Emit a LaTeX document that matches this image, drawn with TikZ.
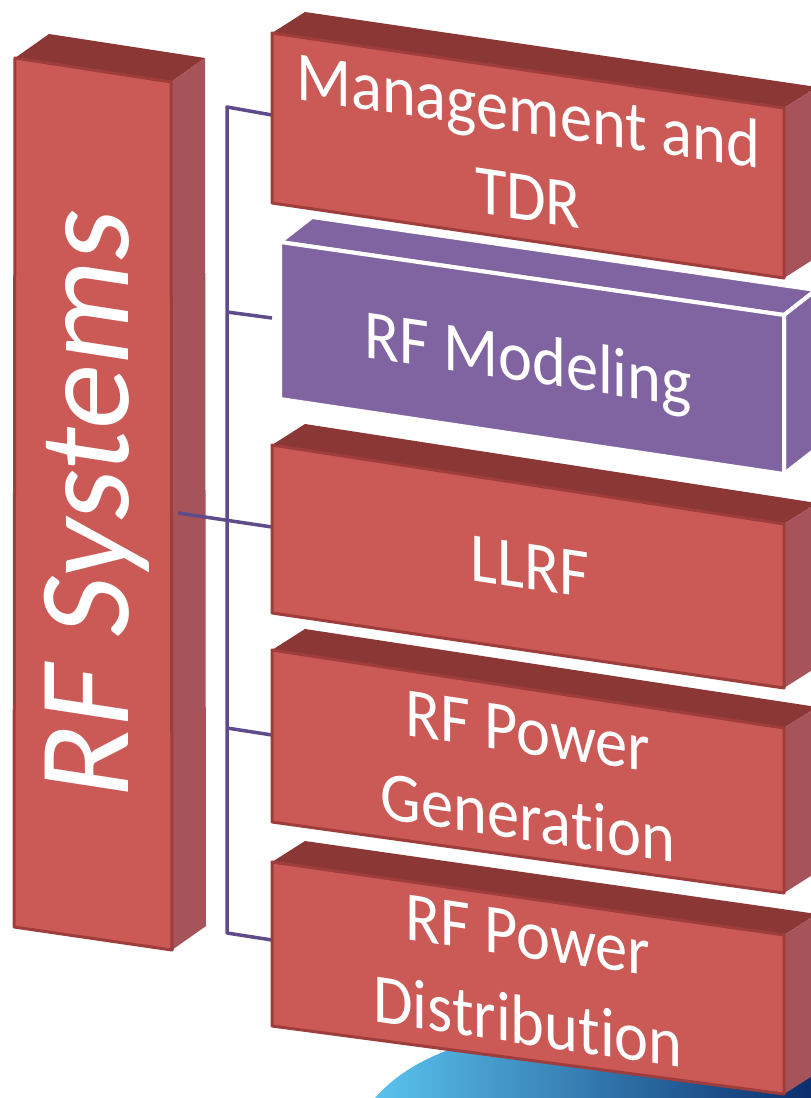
\documentclass[tikz,border=0pt]{standalone}
\usepackage{fontspec}
\setmainfont{Carlito}[Ligatures=NoCommon]
\definecolor{boxred}{HTML}{CB5A57}
\definecolor{boxredtop}{HTML}{8B3735}
\definecolor{boxredside}{HTML}{A6545A}
\definecolor{boxredline}{HTML}{9E3D3B}
\definecolor{boxpurple}{HTML}{8064A2}
\definecolor{linkpurple}{HTML}{5F4B8B}
\definecolor{swooshlight}{HTML}{5BC3EE}
\definecolor{swooshmid}{HTML}{1BA1DF}
\definecolor{swooshdark}{HTML}{0B2E6E}

\begin{document}
\begin{tikzpicture}[x=1pt,y=-1pt,line join=round,
    red front/.style={fill=boxred,draw=boxredline,line width=3pt},
    red top/.style={fill=boxredtop},
    red side/.style={fill=boxredside},
    purple face/.style={fill=boxpurple,draw=white,line width=4pt},
    link/.style={draw=linkpurple,line width=3.5pt},
    box text/.style={text=white,align=center,inner sep=0pt,transform shape,
                     yslant=-0.15,xscale=0.92,font=\fontsize{70}{87}\selectfont},
    sys text/.style={text=white,inner sep=0pt,transform shape,
                     cm={0,1,-1,0.154,(0,0)},font=\fontsize{130}{150}\selectfont}]

  \useasboundingbox (0,0) rectangle (811,1098);
  \fill[white] (0,0) rectangle (811,1098);
  \clip (0,0) rectangle (811,1098);

  \shade[left color=swooshlight,middle color=swooshmid,right color=swooshdark]
    (375,1098) .. controls (395,1075) and (430,1050) .. (500,1035) -- (811,1035) -- (811,1098) -- cycle;

  % left column
  \fill[red top] (15,58) -- (49,34) -- (205,58) -- (171,82) -- cycle;
  \fill[red side] (171,82) -- (205,58) -- (206,926) -- (172,950) -- cycle;
  \filldraw[red front] (15,58) -- (171,82) -- (172,950) -- (14,927) -- cycle;
  \coordinate (sys c) at (97,503);
  \node[sys text] (sys) at (sys c) {RF Systems};

  % connectors
  \coordinate (sys out) at (178,513);
  \coordinate (trunk top) at (227,107);
  \coordinate (trunk model) at (227,312);
  \coordinate (trunk gen) at (227,728);
  \coordinate (trunk bot) at (227,933);
  \coordinate (mgmt in) at (272,115);
  \coordinate (model in) at (272,318);
  \coordinate (llrf in) at (272,527);
  \coordinate (gen in) at (272,735);
  \coordinate (dist in) at (272,940);
  \draw[link] (mgmt in) -- (trunk top) -- (trunk bot) -- (dist in);
  \draw[link] (trunk model) -- (model in);
  \draw[link] (trunk gen) -- (gen in);
  \draw[link] (sys out) -- (llrf in);

  % Management and TDR
  \fill[red top] (272,33) -- (305,12) -- (817,87) -- (784,108) -- cycle;
  \fill[red side] (784,108) -- (817,87) -- (817,257) -- (784,278) -- cycle;
  \filldraw[red front] (272,33) -- (784,108) -- (784,278) -- (272,203) -- cycle;
  \coordinate (mgmt c) at (528,153);
  \node[box text] (mgmt) at (mgmt c) {Management and\\TDR};

  % RF Modeling
  \filldraw[purple face] (280,242) -- (312,217) -- (816,290) -- (784,315) -- cycle;
  \filldraw[purple face] (784,315) -- (816,290) -- (816,449) -- (784,474) -- cycle;
  \filldraw[purple face] (280,242) -- (784,315) -- (784,474) -- (280,399) -- cycle;
  \coordinate (model c) at (528,364);
  \node[box text] (model) at (model c) {RF Modeling};

  % LLRF
  \fill[red top] (272,445) -- (305,424) -- (817,503) -- (784,524) -- cycle;
  \fill[red side] (784,524) -- (817,503) -- (817,667) -- (784,688) -- cycle;
  \filldraw[red front] (272,445) -- (784,524) -- (784,688) -- (272,613) -- cycle;
  \coordinate (llrf c) at (530,567);
  \node[box text] (llrf) at (llrf c) {LLRF};

  % RF Power Generation
  \fill[red top] (272,650) -- (305,629) -- (817,707) -- (784,728) -- cycle;
  \fill[red side] (784,728) -- (817,707) -- (817,872) -- (784,893) -- cycle;
  \filldraw[red front] (272,650) -- (784,728) -- (784,893) -- (272,822) -- cycle;
  \coordinate (gen c) at (528,775);
  \node[box text] (gen) at (gen c) {RF Power\\Generation};

  % RF Power Distribution
  \fill[red top] (272,862) -- (305,841) -- (817,914) -- (784,935) -- cycle;
  \fill[red side] (784,935) -- (817,914) -- (817,1073) -- (784,1094) -- cycle;
  \filldraw[red front] (272,862) -- (784,935) -- (784,1094) -- (272,1026) -- cycle;
  \coordinate (dist c) at (528,979);
  \node[box text] (dist) at (dist c) {RF Power\\Distribution};
\end{tikzpicture}
\end{document}
